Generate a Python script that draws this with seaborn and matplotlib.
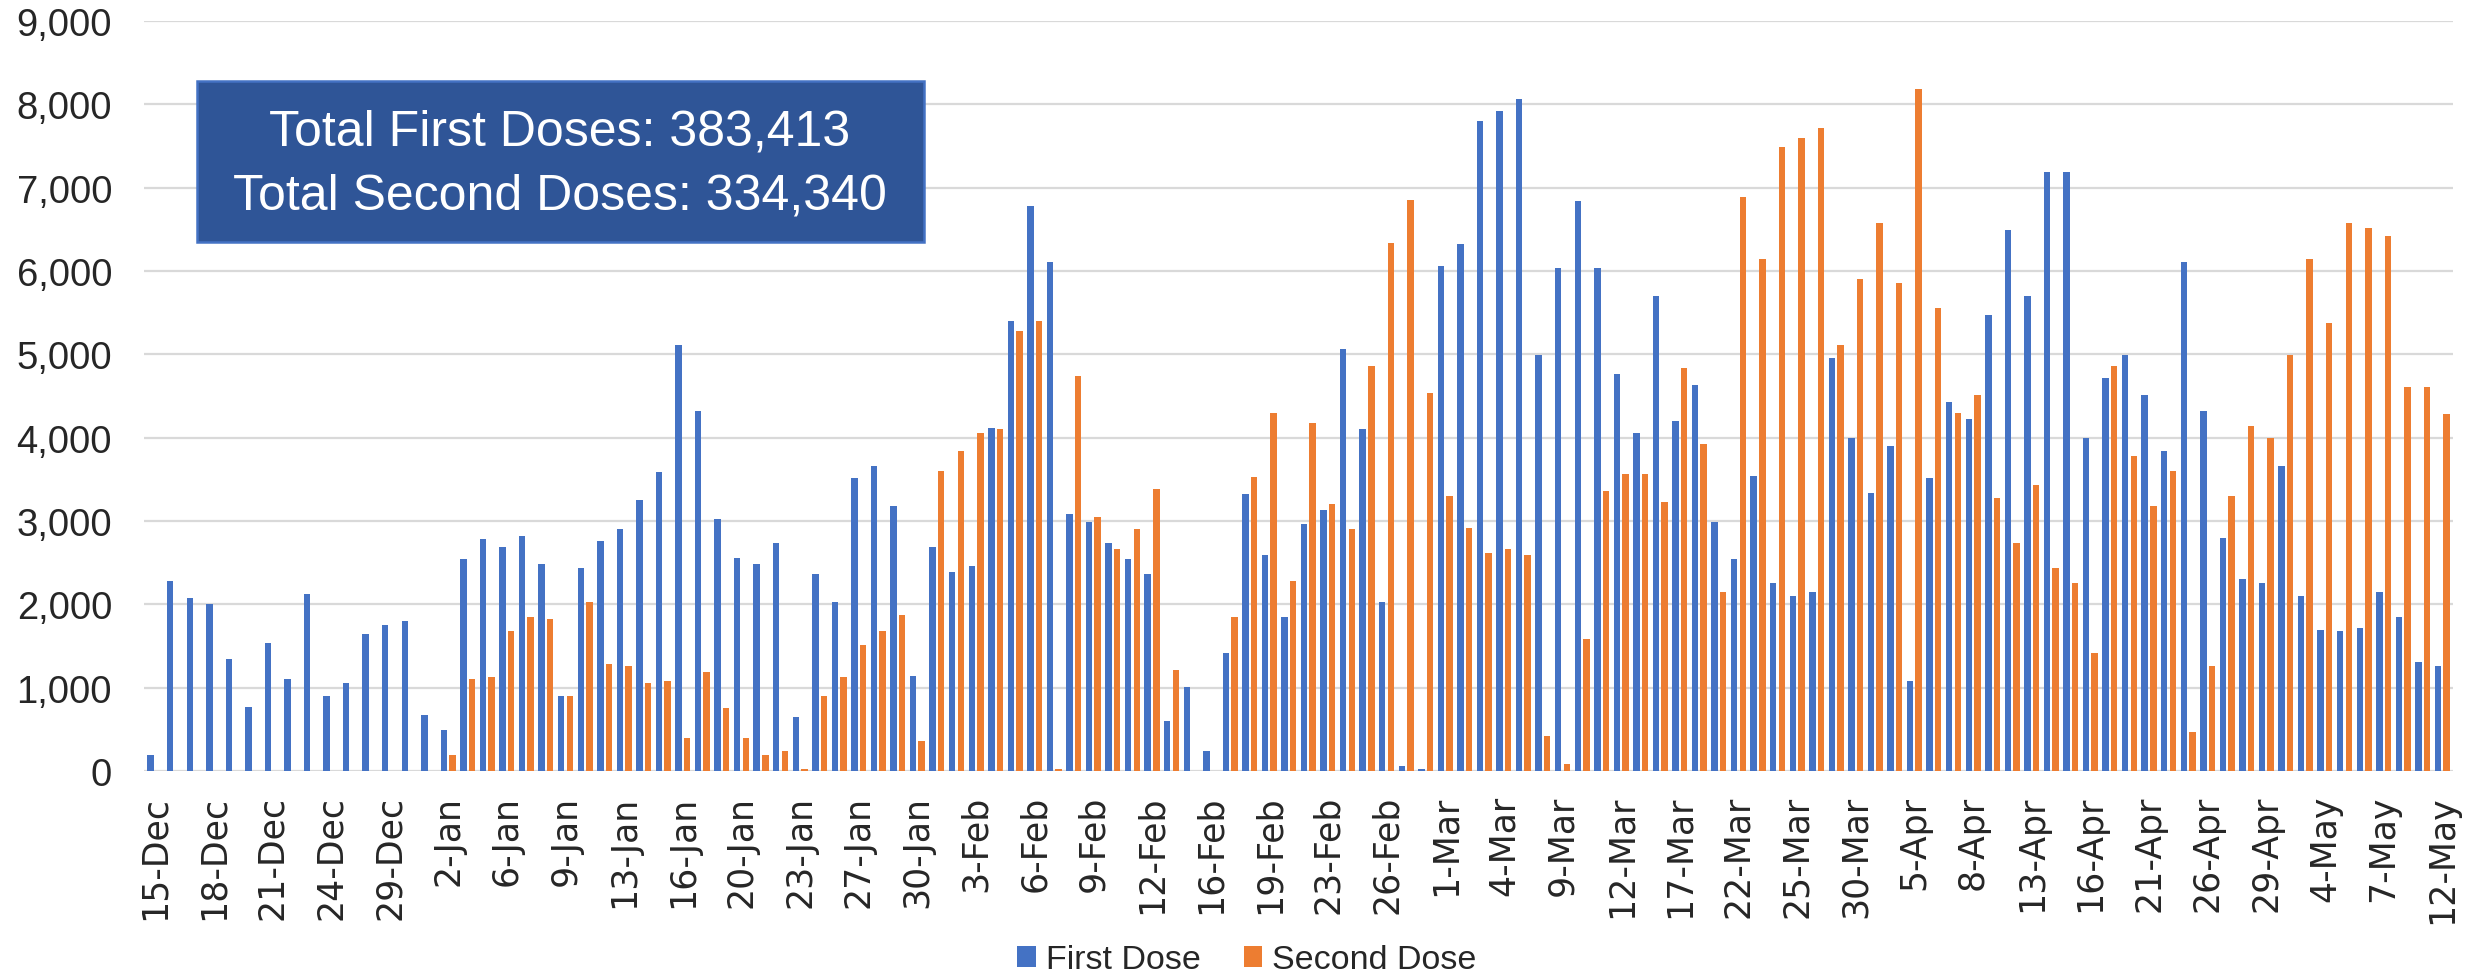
import matplotlib
matplotlib.use("Agg")
import matplotlib.pyplot as plt
from matplotlib.patches import Rectangle, Patch
import pandas as pd
import seaborn as sns

# Vaccination days (tick labels show every third day)
dates = [
    '15-Dec', '16-Dec', '17-Dec', '18-Dec', '19-Dec', '20-Dec',
    '21-Dec', '22-Dec', '23-Dec', '24-Dec', '27-Dec', '28-Dec',
    '29-Dec', '30-Dec', '31-Dec', '2-Jan', '4-Jan', '5-Jan',
    '6-Jan', '7-Jan', '8-Jan', '9-Jan', '11-Jan', '12-Jan',
    '13-Jan', '14-Jan', '15-Jan', '16-Jan', '18-Jan', '19-Jan',
    '20-Jan', '21-Jan', '22-Jan', '23-Jan', '25-Jan', '26-Jan',
    '27-Jan', '28-Jan', '29-Jan', '30-Jan', '1-Feb', '2-Feb',
    '3-Feb', '4-Feb', '5-Feb', '6-Feb', '7-Feb', '8-Feb',
    '9-Feb', '10-Feb', '11-Feb', '12-Feb', '13-Feb', '15-Feb',
    '16-Feb', '17-Feb', '18-Feb', '19-Feb', '20-Feb', '22-Feb',
    '23-Feb', '24-Feb', '25-Feb', '26-Feb', '27-Feb', '28-Feb',
    '1-Mar', '2-Mar', '3-Mar', '4-Mar', '5-Mar', '8-Mar',
    '9-Mar', '10-Mar', '11-Mar', '12-Mar', '15-Mar', '16-Mar',
    '17-Mar', '18-Mar', '19-Mar', '22-Mar', '23-Mar', '24-Mar',
    '25-Mar', '26-Mar', '29-Mar', '30-Mar', '31-Mar', '1-Apr',
    '5-Apr', '6-Apr', '7-Apr', '8-Apr', '9-Apr', '12-Apr',
    '13-Apr', '14-Apr', '15-Apr', '16-Apr', '19-Apr', '20-Apr',
    '21-Apr', '22-Apr', '23-Apr', '26-Apr', '27-Apr', '28-Apr',
    '29-Apr', '30-Apr', '3-May', '4-May', '5-May', '6-May',
    '7-May', '10-May', '11-May', '12-May',
]

first_dose = [
    190, 2280, 2080, 2000, 1340, 770, 1540, 1105, 2130, 900,
    1060, 1640, 1750, 1800, 670, 495, 2540, 2790, 2690, 2820,
    2490, 900, 2435, 2765, 2900, 3255, 3585, 5115, 4325, 3025,
    2560, 2490, 2740, 650, 2360, 2030, 3510, 3665, 3180, 1135,
    2690, 2390, 2465, 4120, 5400, 6780, 6110, 3080, 2990, 2740,
    2540, 2360, 600, 1010, 240, 1420, 3325, 2590, 1850, 2970,
    3130, 5065, 4100, 2030, 60, 30, 6065, 6320, 7800, 7925,
    8060, 4990, 6035, 6835, 6035, 4760, 4050, 5705, 4195, 4630,
    2990, 2540, 3540, 2255, 2105, 2150, 4960, 3995, 3330, 3900,
    1085, 3510, 4430, 4225, 5470, 6495, 5705, 7190, 7190, 3995,
    4710, 4990, 4510, 3840, 6110, 4325, 2795, 2310, 2255, 3665,
    2105, 1695, 1675, 1720, 2150, 1850, 1310, 1260,
]

second_dose = [
    0, 0, 0, 0, 0, 0, 0, 0, 0, 0,
    0, 0, 0, 0, 0, 190, 1105, 1130, 1675, 1850,
    1820, 905, 2030, 1285, 1260, 1060, 1085, 395, 1185, 755,
    395, 190, 240, 30, 905, 1130, 1515, 1675, 1875, 365,
    3605, 3840, 4050, 4100, 5275, 5400, 30, 4735, 3045, 2665,
    2900, 3385, 1210, 0, 0, 1850, 3530, 4300, 2280, 4175,
    3205, 2900, 4860, 6340, 6855, 4535, 3300, 2920, 2615, 2665,
    2590, 420, 80, 1590, 3355, 3560, 3560, 3225, 4830, 3920,
    2150, 6885, 6140, 7490, 7595, 7720, 5115, 5905, 6570, 5860,
    8185, 5555, 4300, 4510, 3280, 2740, 3435, 2435, 2255, 1420,
    4860, 3785, 3180, 3605, 470, 1260, 3300, 4145, 3995, 4990,
    6140, 5370, 6570, 6520, 6425, 4610, 4610, 4280,
]

series_names = ['First Dose', 'Second Dose']
series_colors = ['#4472C4', '#ED7D31']
y_ticks = [0, 1000, 2000, 3000, 4000, 5000, 6000, 7000, 8000, 9000]
summary_lines = ['Total First Doses: 383,413', 'Total Second Doses: 334,340']

df = pd.DataFrame({
    'date': dates * 2,
    'dose': [series_names[0]] * len(dates) + [series_names[1]] * len(dates),
    'count': first_dose + second_dose,
})

sns.set_style('white')
plt.rcParams['font.family'] = ['Liberation Sans', 'DejaVu Sans']

W, H = 2476, 978
fig = plt.figure(figsize=(W / 100, H / 100), dpi=100)
ax = fig.add_axes([144 / W, 1 - 772 / H, (2453 - 144) / W, (772 - 22) / H])

sns.barplot(
    data=df, x='date', y='count', hue='dose',
    order=dates, hue_order=series_names,
    palette=series_colors, width=0.88, gap=0.25,
    linewidth=0, saturation=1, ax=ax, legend=False,
)

ax.set_xlim(-0.56, len(dates) - 0.45)
ax.set_ylim(0, 9000)
ax.set_yticks(y_ticks)
ax.set_yticklabels([f'{v:,}' for v in y_ticks], fontsize=27.5)
ax.set_xticks(range(0, len(dates), 3))
ax.set_xticklabels(dates[::3], rotation=90, fontsize=25,
                   family=['Liberation Sans Narrow', 'DejaVu Sans'])
ax.tick_params(axis='y', length=0, pad=23)
ax.tick_params(axis='x', length=0, pad=17)
ax.set_xlabel('')
ax.set_ylabel('')
ax.yaxis.grid(True, color='#D9D9D9', linewidth=1.6)
ax.xaxis.grid(False)
ax.set_axisbelow(True)
for side in ['top', 'right', 'left', 'bottom']:
    ax.spines[side].set_visible(False)

# Legend centred under the plot
handles = [Patch(facecolor=c, edgecolor='none') for c in series_colors]
ax.legend(handles, series_names, loc='center', ncol=2, frameon=False,
          bbox_to_anchor=(1247 / W, 1 - 961 / H), bbox_transform=fig.transFigure,
          fontsize=24.5, handlelength=0.55, handleheight=0.55,
          handletextpad=0.3, columnspacing=1.25)

# Summary box with dose totals
box = Rectangle((197 / W, 1 - 243 / H), (924 - 197) / W, (243 - 82) / H,
                transform=fig.transFigure, facecolor='#2F5597',
                edgecolor='#4472C4', linewidth=1.8, zorder=5)
fig.add_artist(box)
fig.text(560 / W, 1 - 132 / H, summary_lines[0], ha='center', va='center',
         color='white', fontsize=36, zorder=6)
fig.text(560 / W, 1 - 197 / H, summary_lines[1], ha='center', va='center',
         color='white', fontsize=36, zorder=6)

fig.savefig('out.png', dpi=100)
